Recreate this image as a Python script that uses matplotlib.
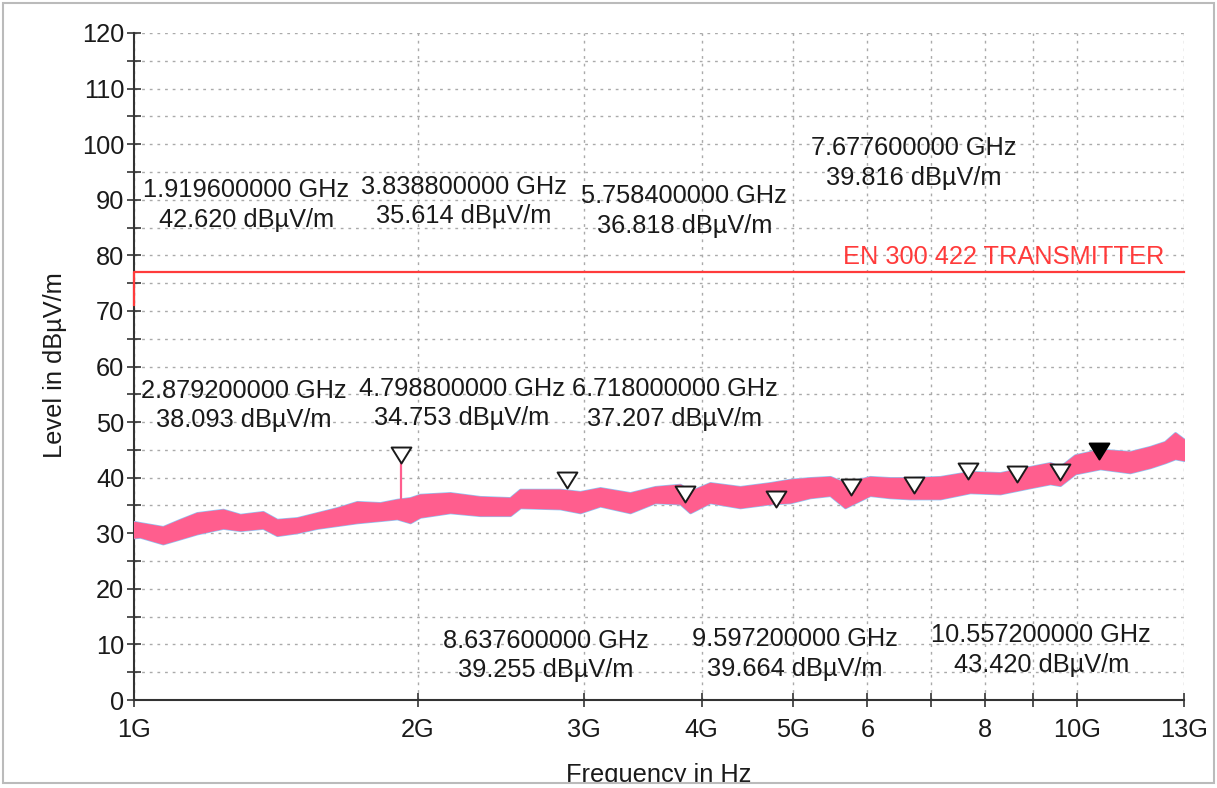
import matplotlib
matplotlib.use("Agg")
import matplotlib.pyplot as plt
from matplotlib.path import Path
from matplotlib.patches import Rectangle
from matplotlib.ticker import NullLocator

plt.rcParams['font.family'] = ['Liberation Sans', 'DejaVu Sans']

# ---------------- data ----------------
# measured trace envelope (frequency in GHz, level in dBµV/m)
trace_f = [1.000, 1.015, 1.073, 1.119, 1.166, 1.243, 1.296, 1.370, 1.418, 1.489,
           1.564, 1.642, 1.724, 1.824, 1.901, 1.963, 2.011, 2.164, 2.328, 2.506,
           2.568, 2.831, 2.973, 3.122, 3.359, 3.571, 3.796, 3.890, 4.084, 4.395,
           4.729, 4.966, 5.214, 5.476, 5.680, 6.036, 6.339, 6.656, 7.164, 7.708,
           8.294, 8.925, 9.372, 9.603, 9.961, 10.59, 11.39, 11.96, 12.41, 12.72,
           13.00]
trace_upper = [32.0, 31.8, 31.1, 32.4, 33.6, 34.2, 33.3, 33.8, 32.4, 32.7,
               33.6, 34.5, 35.6, 35.4, 36.0, 36.3, 36.9, 37.2, 36.5, 36.3,
               37.8, 37.8, 37.4, 38.1, 37.2, 38.3, 38.7, 37.5, 39.0, 38.3,
               39.0, 39.6, 39.9, 40.1, 39.0, 40.1, 39.9, 39.9, 40.1, 41.0,
               40.8, 41.9, 42.6, 41.9, 44.0, 45.0, 44.6, 45.5, 46.4, 48.0,
               46.8]
trace_lower = [29.3, 29.4, 28.2, 29.1, 30.0, 31.0, 30.6, 31.0, 29.7, 30.2,
               31.0, 31.5, 32.0, 32.4, 32.7, 32.0, 33.0, 33.8, 33.3, 33.3,
               34.7, 34.5, 33.8, 35.0, 33.8, 35.6, 35.4, 33.8, 35.6, 34.7,
               35.4, 35.6, 36.5, 36.9, 34.7, 36.9, 36.5, 36.3, 36.3, 37.4,
               37.2, 38.3, 39.0, 38.7, 40.8, 41.7, 41.0, 41.9, 42.8, 43.5,
               43.2]

# single spike on the trace
spike_f = [1.9196]
spike_low = [34.0]
spike_high = [42.62]

# limit line
limit_f = [1.0, 1.0, 13.0]
limit_db = [71.0, 77.0, 77.0]
limit_name = "EN 300 422 TRANSMITTER"

# markers
marker_f = [1.9196, 2.8792, 3.8388, 4.7988, 5.7584, 6.718, 7.6776, 8.6376, 9.5972, 10.5572]
marker_db = [42.620, 38.093, 35.614, 34.753, 36.818, 37.207, 39.816, 39.255, 39.664, 43.420]
marker_lbl_f = ["1.919600000", "2.879200000", "3.838800000", "4.798800000", "5.758400000",
                "6.718000000", "7.677600000", "8.637600000", "9.597200000", "10.557200000"]
# marker label block centres (axes fraction)
marker_txt_x = [0.107, 0.105, 0.314, 0.312, 0.524, 0.515, 0.743, 0.392, 0.629, 0.864]
marker_txt_y = [0.742, 0.442, 0.747, 0.445, 0.733, 0.444, 0.805, 0.067, 0.069, 0.075]

tick_f = [1, 2, 3, 4, 5, 6, 7, 8, 9, 10, 13]
tick_lbl = ["1G", "2G", "3G", "4G", "5G", "6", "", "8", "", "10G", "13G"]

# ---------------- figure ----------------
W, H = 1217, 788
fig = plt.figure(figsize=(W / 100, H / 100), dpi=100)
ax = fig.add_axes([134 / W, 1 - 700 / H, 1050 / W, 667 / H])

ax.set_xscale('log')
ax.set_xlim(1, 13)
ax.set_ylim(0, 120)

ink = '#1a1a1a'
FS = 18.3

# trace: blue underneath, pink on top
ax.fill_between(trace_f, trace_lower, trace_upper, facecolor='#8EC5F5',
                edgecolor='#8EC5F5', linewidth=2.4, zorder=3)
ax.fill_between(trace_f, trace_lower, trace_upper, facecolor='#FF5E8E',
                edgecolor='#FF5E8E', linewidth=1.4, zorder=4)
ax.vlines(spike_f, spike_low, spike_high, color='#FF5E8E', linewidth=1.6, zorder=4)

# limit
ax.plot(limit_f, limit_db, color='#FF3B3B', linewidth=1.6, zorder=5, clip_on=False)
ax.text(12.4, 77.6, limit_name, color='#FF3B3B', fontsize=FS, ha='right', va='bottom', zorder=6)

# markers (apex at value)
tri = Path([(-0.62, 1.0), (0.62, 1.0), (0.0, 0.0), (-0.62, 1.0)],
           [Path.MOVETO, Path.LINETO, Path.LINETO, Path.CLOSEPOLY])
ax.plot(marker_f[:-1], marker_db[:-1], linestyle='none', marker=tri, markersize=23,
        markerfacecolor='white', markeredgecolor=ink, markeredgewidth=1.4, zorder=7)
ax.plot(marker_f[-1:], marker_db[-1:], linestyle='none', marker=tri, markersize=23,
        markerfacecolor='black', markeredgecolor='black', markeredgewidth=1.4, zorder=7)

for lf, db, tx, ty in zip(marker_lbl_f, marker_db, marker_txt_x, marker_txt_y):
    ax.text(tx, ty, f"{lf} GHz\n{db:.3f} dBµV/m", transform=ax.transAxes,
            ha='center', va='center', multialignment='center', fontsize=FS,
            color=ink, linespacing=1.28, zorder=8)

# ticks
ax.set_xticks(tick_f)
ax.set_xticklabels(tick_lbl)
ax.xaxis.set_minor_locator(NullLocator())
ax.set_yticks(range(0, 121, 10))
ax.set_yticks(range(5, 120, 10), minor=True)
ax.tick_params(axis='both', which='both', direction='inout', length=10, width=1.2,
               color='#333333', labelsize=FS, labelcolor=ink)
ax.tick_params(axis='x', pad=8)
ax.tick_params(axis='y', pad=2)

# grid
ax.grid(True, which='both', axis='y', linestyle=(0, (2, 3.5)), color='#AAAAAA', linewidth=1.0)
ax.grid(True, which='major', axis='x', linestyle=(0, (2, 3.5)), color='#AAAAAA', linewidth=1.0)
ax.set_axisbelow(True)

for s in ['top', 'right']:
    ax.spines[s].set_visible(False)
for s in ['left', 'bottom']:
    ax.spines[s].set_color('#333333')
    ax.spines[s].set_linewidth(1.5)

# axis titles
fig.text(55 / W, 1 - 365 / H, "Level in dBµV/m", rotation=90, ha='center', va='center',
         fontsize=FS, color=ink)
fig.text(659 / W, 1 - 763 / H, "Frequency in Hz", ha='center', va='top',
         fontsize=FS, color=ink)

# bottom cut and frame
fig.patches.append(Rectangle((0, 0), 1, 5 / H, transform=fig.transFigure,
                             facecolor='white', edgecolor='none', zorder=20))
fig.patches.append(Rectangle((3 / W, 5 / H), (W - 6) / W, (H - 8) / H,
                             transform=fig.transFigure, facecolor='none',
                             edgecolor='#BBBBBB', linewidth=1.5, zorder=21))

fig.savefig('out.png', dpi=100)
